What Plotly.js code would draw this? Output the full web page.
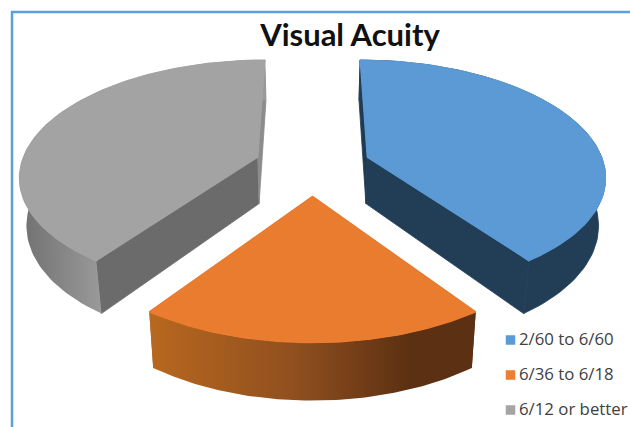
<!DOCTYPE html>
<html><head><meta charset="utf-8">
<script src="https://cdn.plot.ly/plotly-3.0.1.min.js"></script>
<style>html,body{margin:0;padding:0;background:#fff}#c{width:630px;height:427px}</style>
</head><body><div id="c"></div>
<script>
const categories = ["2/60 to 6/60", "6/36 to 6/18", "6/12 or better"];
const values = [40.2, 19.6, 40.2];
const topColors = ["#5B9AD5", "#EA7C30", "#A3A3A3"];
const legendColors = ["#5B9BD5", "#ED7D31", "#A5A5A5"];
const chartTitle = "Visual Acuity";

// Perspective projection of the exploded pie onto the page
const explode = [0.245, 0.26, 0.245];
const cam = {x0: 312.5, y0: 165.5, S: 237, A: 114, k: 0.15, H: 47, shrink: 0.976};
function project(X, Y, down) {
  const w = 1 + cam.k * Y;
  return {
    x: cam.x0 + cam.S * X / w * (down ? cam.shrink : 1),
    y: cam.y0 - cam.A * Y / w + (down ? cam.H / w : 0)
  };
}
const total = values.reduce((a, b) => a + b, 0);
const rad = d => d * Math.PI / 180;
let cursor = 0;
const slices = values.map((v, i) => {
  const a0 = cursor, a1 = cursor + v / total * 360;
  cursor = a1;
  const mid = rad((a0 + a1) / 2);
  return {a0, a1, ox: explode[i] * Math.sin(mid), oy: explode[i] * Math.cos(mid)};
});
const rim = (s, deg, down) => project(s.ox + Math.sin(rad(deg)), s.oy + Math.cos(rad(deg)), down);
const apex = (s, down) => project(s.ox, s.oy, down);
function poly(points, fill) {
  return Object.assign({
    x: points.map(p => p.x).concat(points[0].x),
    y: points.map(p => p.y).concat(points[0].y),
    mode: "lines", fill: "toself", line: {width: 0}, hoverinfo: "skip", showlegend: false
  }, fill);
}
function arc(s, down, reverse) {
  const pts = [];
  for (let d = s.a0; d <= s.a1 + 1e-6; d += (s.a1 - s.a0) / 90) pts.push(rim(s, d, down));
  return reverse ? pts.reverse() : pts;
}
const side = (c, w) => ({fillcolor: c, line: {width: w === undefined ? 0.8 : w, color: c}});
const grad = (start, stop, scale) => ({fillgradient: {type: "horizontal", start, stop, colorscale: scale}});
const sideStyles = [
  {first: side("#1F3B52"), last: side("#223E56"), wall: side("#223E56")},
  {first: side("#5C3012", 0), last: side("#B3651F", 0),
   wall: grad(149, 475, [[0, "#B8681F"], [0.45, "#8F4F1E"], [0.8, "#5C3012"], [1, "#5C3012"]])},
  {first: side("#6B6B6B"), last: side("#8C8C8C"),
   wall: grad(20, 100, [[0, "#707070"], [1, "#999999"]])}
];
const traces = [];
slices.forEach((s, i) => {
  const st = sideStyles[i];
  traces.push(poly([apex(s), rim(s, s.a0), rim(s, s.a0, true), apex(s, true)], st.first));
  traces.push(poly([apex(s), rim(s, s.a1), rim(s, s.a1, true), apex(s, true)], st.last));
  traces.push(poly(arc(s, false).concat(arc(s, true, true)), st.wall));
});
slices.forEach((s, i) => {
  traces.push(poly([apex(s)].concat(arc(s, false)), side(topColors[i], 1.2)));
});
traces.push({
  x: categories.map(() => 510.5),
  y: categories.map((c, i) => 340 + 35 * i),
  mode: "markers",
  marker: {symbol: "square", size: 9.5, color: legendColors},
  hoverinfo: "skip", showlegend: false, cliponaxis: false
});
traces.push({
  x: categories.map(() => 519),
  y: categories.map((c, i) => 340.5 + 35 * i),
  mode: "text",
  text: categories,
  textposition: "middle right",
  textfont: {family: "Open Sans, sans-serif", size: 16.8, color: "#404040"},
  hoverinfo: "skip", showlegend: false, cliponaxis: false
});
const layout = {
  width: 630, height: 427,
  margin: {l: 0, r: 0, t: 0, b: 0},
  paper_bgcolor: "#fff", plot_bgcolor: "#fff", showlegend: false,
  xaxis: {range: [0, 630], visible: false, fixedrange: true},
  yaxis: {range: [427, 0], visible: false, fixedrange: true},
  title: {text: "<b>" + chartTitle + "</b>", x: 350 / 630, xanchor: "center", y: 1 - 35 / 427, yanchor: "middle",
          font: {family: "Lato, sans-serif", size: 31, color: "#111"}},
  shapes: [{type: "rect", xref: "x", yref: "y", x0: 12, y0: 12, x1: 700, y1: 500,
            line: {color: "#5B9FDF", width: 2.5}, fillcolor: "rgba(0,0,0,0)", layer: "below"}]
};
Plotly.newPlot("c", traces, layout, {staticPlot: true, displayModeBar: false});
</script></body></html>
